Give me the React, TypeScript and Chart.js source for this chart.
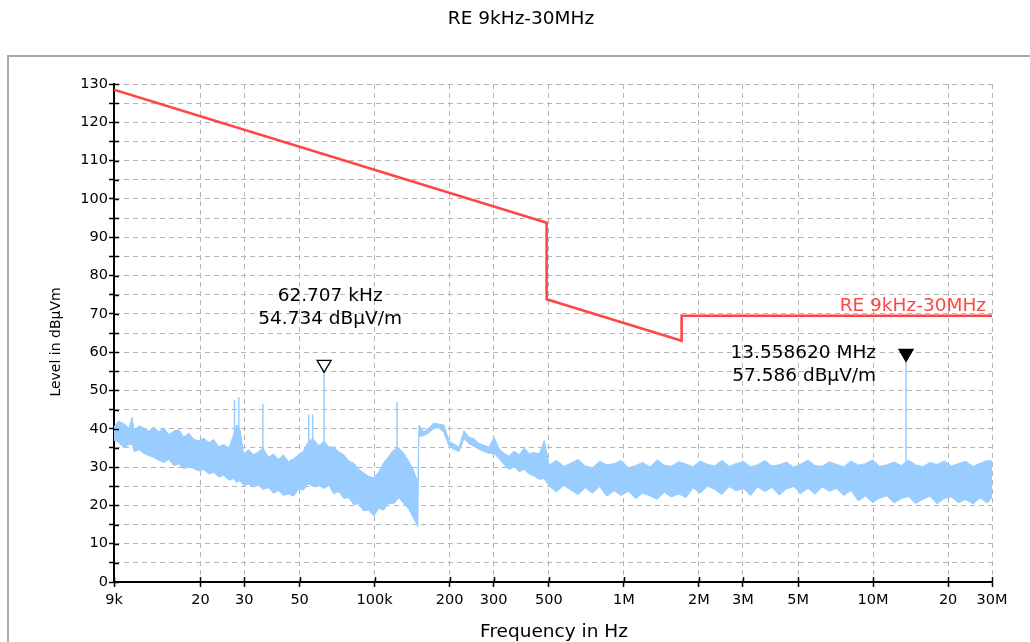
import { useEffect, useRef } from 'react';
import { Chart, registerables } from 'chart.js';

Chart.register(...registerables);

// ---------- text ----------
const chartTitle = 'RE 9kHz-30MHz';
const xAxisTitle = 'Frequency in Hz';
const yAxisTitle = 'Level in dBµVm';
const limitName = 'RE 9kHz-30MHz';

// ---------- axes ----------
const xTickValues = [9e3, 2e4, 3e4, 5e4, 1e5, 2e5, 3e5, 5e5, 1e6, 2e6, 3e6, 5e6, 1e7, 2e7, 3e7];
const xTickLabels = ['9k', '20', '30', '50', '100k', '200', '300', '500', '1M', '2M', '3M', '5M', '10M', '20', '30M'];
const yMin = 0;
const yMax = 130;
const yStep = 5;

// ---------- limit line ----------
const limitFreqs = [9000, 490000, 490000, 1705000, 1705000, 30000000];
const limitLevels = [128.5, 93.8, 73.8, 63.0, 69.5, 69.5];

const noiseFreqs = [
  9000, 9380, 9870, 10330, 10650, 10840, 11330, 11860, 12420, 13000,
  13600, 14260, 14930, 15640, 16380, 17150, 17960, 18800, 19700, 20600,
  21600, 22600, 23700, 24800, 26000, 27200, 27900, 28800, 29800, 31200,
  32700, 34200, 35600, 37500, 39300, 41200, 43100, 45100, 47300, 49500,
  51800, 54000, 56400, 59700, 62700, 65500, 68600, 71800, 75200, 78700,
  82500, 86300, 90000, 94700, 99200, 103900, 108800, 113900, 119300, 125000,
  130900, 137100, 143600, 149100, 150500, 157600, 165100, 172900, 181100, 189700,
  198700, 208100, 218000, 228300, 239200, 250500, 262400, 274800, 287900, 301500,
  315800, 330800, 346500, 362900, 380200, 398200, 417100, 436900, 457600, 479300,
  502100, 536000, 574000, 613000, 655000, 700000, 748000, 800000, 854000, 913000,
  976000, 1043000, 1115000, 1191000, 1273000, 1360000, 1454000, 1553000, 1660000, 1774000,
  1896000, 2026000, 2165000, 2313000, 2472000, 2641000, 2822000, 3016000, 3223000, 3444000,
  3680000, 3930000, 4200000, 4490000, 4800000, 5130000, 5480000, 5850000, 6250000, 6680000,
  7140000, 7630000, 8150000, 8710000, 9310000, 9950000, 10630000, 11360000, 12140000, 12970000,
  13860000, 14810000, 15820000, 16900000, 18070000, 19300000, 20600000, 22000000, 23500000, 25200000,
  26900000, 28700000, 30000000,
];
const noiseUpper = [
  40.5, 42, 41.3, 40.2, 43, 39.5, 40.8, 40.2, 39.4, 40.5,
  39.2, 40.2, 38.5, 39.4, 39.8, 37.8, 38.9, 37.3, 36.8, 37.6,
  36.4, 37.2, 35.3, 35.9, 35, 38.5, 41, 40, 33.5, 34.5,
  33.2, 34, 35, 32.6, 33.4, 32, 33.2, 31.4, 32.2, 33.2,
  34.2, 36.5, 37.5, 35.6, 36.8, 35.2, 35.3, 34, 33.2, 31.6,
  31, 29.5, 28.6, 27.6, 27.2, 28.8, 31.2, 32.8, 34.5, 35,
  33.6, 31.5, 29, 26, 41, 39.2, 40.3, 41.5, 41.2, 41,
  36.8, 36, 35.2, 39.5, 37.8, 37.4, 36.2, 35.7, 35.2, 37.8,
  34.8, 33.6, 32.8, 34.2, 33.2, 35, 33.5, 33.8, 33.4, 36.9,
  30.5, 31.8, 30.2, 31, 32, 30.3, 29.8, 31.5, 30.6, 30.9,
  31.7, 29.8, 30.4, 31.2, 30, 31.9, 30.5, 30.2, 31.4, 30.8,
  30.1, 31.6, 30.7, 30.3, 31.8, 30.2, 30.9, 31.5, 30.1, 30.6,
  31.7, 30.3, 30.6, 31.3, 30, 30.8, 31.8, 30.4, 30.2, 31.4,
  30.7, 30.1, 31.6, 30.5, 30.9, 31.9, 30.2, 30.6, 31.3, 30.4,
  31.8, 30.6, 30.1, 31.2, 30.7, 31.6, 30.3, 30.9, 31.5, 30.2,
  31, 31.7, 31.6,
];
const noiseLower = [
  37, 36.5, 35, 35.8, 36, 34, 34.5, 33.6, 33, 32.5,
  31.8, 31.2, 32, 30.4, 30.8, 29.5, 30.2, 29.6, 29, 29.4,
  28.2, 28.6, 27.4, 27.8, 26.6, 27, 26, 26.4, 25.2, 25.5,
  24.8, 25.3, 24.2, 24.6, 23.2, 23.8, 22.6, 23, 22.4, 24.2,
  24, 25.6, 25, 25.2, 24.4, 25.2, 23, 23.6, 21.8, 22,
  20.2, 20.4, 18.6, 18.8, 17.2, 19.2, 18.8, 20.6, 20.4, 22,
  20.5, 19, 16.5, 14.5, 38, 38.2, 39, 40, 40.3, 39,
  35.5, 34.6, 34, 37.4, 36.1, 35.4, 34.6, 34, 33.6, 33.5,
  32.2, 30.6, 29.4, 30, 28.8, 29.4, 28.2, 27.6, 26.8, 27,
  25, 23.5, 25.2, 24, 22.8, 24.6, 23.2, 24.9, 22.4, 23.8,
  22.6, 23.7, 21.8, 23.2, 22.5, 21.6, 23.4, 22.2, 23, 22,
  24.6, 23.2, 25, 24.2, 22.8, 24.9, 23.8, 24.4, 22.6, 24.8,
  23.6, 24.7, 22.7, 24.3, 24.9, 23.1, 24.5, 22.9, 24.8, 23.7,
  24.4, 22.6, 23.9, 21.2, 22.4, 20.8, 21.9, 22.5, 20.6, 21.8,
  22.3, 20.5, 21.6, 22.4, 20.4, 21.8, 22.2, 20.7, 21.5, 20.4,
  21.9, 20.6, 22.1,
];

// ---------- narrow spikes ----------
const spikeFreqs = [27400, 28500, 35600, 54400, 56400, 62707, 123000, 13558620];
const spikeBases = [30, 30, 28, 28, 28, 30, 24, 26];
const spikePeaks = [47.5, 48.3, 46.5, 43.7, 43.7, 54.734, 47, 57.586];

// ---------- markers ----------
const markerFreqs = [62707, 13558620];
const markerLevels = [54.734, 57.586];
const markerFilled = [false, true];
const markerLine1 = ['62.707 kHz', '13.558620 MHz'];
const markerLine2 = ['54.734 dBµV/m', '57.586 dBµV/m'];

const FONT = 'DejaVu Sans';
const BLUE = '#99ccff';
const RED = '#ff4646';
const GRID = '#b5b5b5';

const decorPlugin = {
  id: 'decor',
  afterDraw(chart: any) {
    const { ctx, chartArea } = chart;
    const xs = chart.scales.x;
    const ys = chart.scales.y;
    ctx.save();

    // frame
    ctx.strokeStyle = '#a9a9a9';
    ctx.lineWidth = 2;
    ctx.strokeRect(8, 56, 1200, 800);

    // inner half of the tick marks
    ctx.strokeStyle = '#000';
    ctx.lineWidth = 1.5;
    ctx.beginPath();
    ys.ticks.forEach((t: any) => {
      const py = Math.round(ys.getPixelForValue(t.value)) + 0.5;
      ctx.moveTo(chartArea.left, py);
      ctx.lineTo(chartArea.left + 5, py);
    });
    xs.ticks.forEach((t: any) => {
      const px = Math.round(xs.getPixelForValue(t.value)) + 0.5;
      ctx.moveTo(px, chartArea.bottom);
      ctx.lineTo(px, chartArea.bottom - 5);
    });
    ctx.stroke();

    // titles
    ctx.fillStyle = '#000';
    ctx.textAlign = 'center';
    ctx.textBaseline = 'middle';
    ctx.font = `18.5px "${FONT}"`;
    ctx.fillText(chartTitle, 521, 19);
    ctx.fillText(xAxisTitle, (chartArea.left + chartArea.right) / 2 + 1, 632);
    ctx.save();
    ctx.translate(56, 342);
    ctx.rotate(-Math.PI / 2);
    ctx.font = `14px "${FONT}"`;
    ctx.fillText(yAxisTitle, 0, 0);
    ctx.restore();

    // limit name
    ctx.fillStyle = RED;
    ctx.textAlign = 'right';
    ctx.textBaseline = 'alphabetic';
    ctx.font = `18.5px "${FONT}"`;
    ctx.fillText(limitName, 986, ys.getPixelForValue(limitLevels[limitLevels.length - 1]) - 5);

    // markers
    markerFreqs.forEach((f, i) => {
      const px = xs.getPixelForValue(f);
      const py = ys.getPixelForValue(markerLevels[i]);
      ctx.beginPath();
      ctx.moveTo(px, py);
      ctx.lineTo(px - 7, py - 12);
      ctx.lineTo(px + 7, py - 12);
      ctx.closePath();
      ctx.lineWidth = 1.3;
      ctx.strokeStyle = '#000';
      ctx.fillStyle = markerFilled[i] ? '#000' : '#fff';
      ctx.fill();
      ctx.stroke();

      ctx.fillStyle = '#000';
      ctx.font = `18.5px "${FONT}"`;
      ctx.textBaseline = 'middle';
      if (i === 0) {
        ctx.textAlign = 'center';
        ctx.fillText(markerLine1[i], px + 6, py - 76);
        ctx.fillText(markerLine2[i], px + 6, py - 53);
      } else {
        ctx.textAlign = 'right';
        ctx.fillText(markerLine1[i], px - 30, py - 8);
        ctx.fillText(markerLine2[i], px - 30, py + 15);
      }
    });
    ctx.restore();
  },
};

export default function App() {
  const ref = useRef<HTMLCanvasElement | null>(null);

  useEffect(() => {
    document.body.style.margin = '0';
    const canvas = ref.current;
    if (!canvas) return;

    const noiseUp = noiseFreqs.map((f, i) => ({ x: f, y: noiseUpper[i] }));
    const noiseLo = noiseFreqs.map((f, i) => ({ x: f, y: noiseLower[i] }));
    const spikes: { x: number; y: number | null }[] = [];
    spikeFreqs.forEach((f, i) => {
      spikes.push({ x: f, y: spikeBases[i] });
      spikes.push({ x: f, y: spikePeaks[i] });
      spikes.push({ x: f, y: null });
    });
    const limit = limitFreqs.map((f, i) => ({ x: f, y: limitLevels[i] }));

    const tickFont = { family: FONT, size: 14.5 };

    const chart = new Chart(canvas, {
      type: 'line',
      data: {
        datasets: [
          {
            label: 'upper',
            data: noiseUp,
            borderColor: BLUE,
            backgroundColor: BLUE,
            borderWidth: 1,
            pointRadius: 0,
            fill: '+1',
            tension: 0,
          },
          {
            label: 'lower',
            data: noiseLo,
            borderColor: BLUE,
            borderWidth: 1,
            pointRadius: 0,
            fill: false,
            tension: 0,
          },
          {
            label: 'spikes',
            data: spikes as any,
            borderColor: BLUE,
            borderWidth: 1.5,
            pointRadius: 0,
            fill: false,
            spanGaps: false,
          },
          {
            label: limitName,
            data: limit,
            borderColor: RED,
            borderWidth: 2.6,
            pointRadius: 0,
            fill: false,
            tension: 0,
          },
        ],
      },
      options: {
        animation: false,
        responsive: false,
        devicePixelRatio: 1,
        layout: { padding: { top: 84, right: 38, left: 0, bottom: 0 } },
        plugins: {
          legend: { display: false },
          title: { display: false },
          tooltip: { enabled: false },
        },
        scales: {
          x: {
            type: 'logarithmic',
            min: 9000,
            max: 30000000,
            afterBuildTicks: (s: any) => {
              s.ticks = xTickValues.map((v) => ({ value: v }));
            },
            afterFit: (s: any) => {
              s.height = 60;
            },
            ticks: {
              autoSkip: false,
              maxRotation: 0,
              minRotation: 0,
              padding: 5,
              color: '#000',
              font: tickFont,
              callback: (_v: any, i: number) => xTickLabels[i] ?? '',
            },
            grid: {
              color: GRID,
              lineWidth: 1,
              tickColor: '#000',
              tickLength: 5,
              tickWidth: 1.5,
            },
            border: { display: true, color: '#000', width: 2, dash: [5, 4] },
          },
          y: {
            type: 'linear',
            min: yMin,
            max: yMax,
            afterFit: (s: any) => {
              s.width = 114;
            },
            ticks: {
              stepSize: yStep,
              autoSkip: false,
              padding: 1,
              color: '#000',
              font: tickFont,
              callback: (v: any) => (Number(v) % 10 === 0 ? String(v) : ''),
            },
            grid: {
              color: GRID,
              lineWidth: 1,
              tickColor: '#000',
              tickLength: 5,
              tickWidth: 1.5,
            },
            border: { display: true, color: '#000', width: 2, dash: [5, 4] },
          },
        },
      },
      plugins: [decorPlugin],
    });

    return () => chart.destroy();
  }, []);

  return (
    <div style={{ width: 1030, height: 642, background: '#fff' }}>
      <canvas ref={ref} width={1030} height={642} style={{ display: 'block' }} />
    </div>
  );
}
